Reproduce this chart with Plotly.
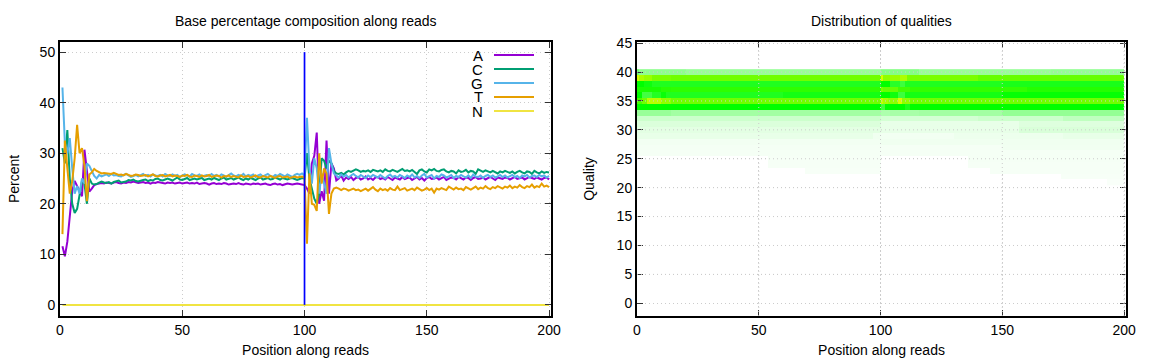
import plotly.graph_objects as go

series_names = ["A", "C", "G", "T", "N"]
series_colors = ["#9400d3", "#009e73", "#56b4e9", "#e69f00", "#f0e442"]

pct_a = [11.6,9.6,12.5,17,22.5,24.5,23.5,22.8,21.5,30.7,26,22.4,23,23.7,23.9,24.0,24.1,24.0,24.2,24.1,
 24.0,24.2,24.3,24.1,24.0,24.2,24.1,24.3,24.2,24.4,24.3,24.1,24.2,24.3,24.1,24.2,24.0,24.2,24.1,24.3,
 24.2,24.1,24.0,24.2,24.1,24.2,24.0,24.1,24.2,24.0,24.1,24.2,24.0,24.1,24.0,24.2,23.9,24.0,24.1,24.0,
 23.8,24.0,24.1,23.9,24.0,23.9,24.1,24.0,23.8,23.9,24.0,23.9,24.1,23.9,23.8,24.0,23.9,23.8,24.0,23.9,
 24.0,23.8,23.9,24.0,23.8,23.7,23.9,24.0,23.8,23.9,23.7,23.8,24.0,23.9,23.8,23.9,24.0,23.9,23.8,23.7,
 23,22,28,29.5,34.1,20,22.5,20.6,32.5,22,28,27,24.6,25,25.6,24.6,25.2,24.9,25.3,24.7,
 25.1,25.3,24.8,25.0,25.4,24.8,25.1,24.7,25.2,25.3,24.9,25.1,24.8,25.3,25.0,24.7,25.2,25.0,24.8,25.3,
 24.9,25.1,25.2,24.7,25.0,25.3,24.8,25.1,24.6,25.1,25.3,24.9,25.0,25.2,24.8,25.1,25.3,24.7,25.0,25.2,
 25.1,24.8,25.3,25.0,24.8,25.2,25.1,24.7,25.1,25.3,24.9,25.0,25.2,24.8,25.1,25.3,25.0,24.7,25.2,25.0,
 24.9,25.2,25.1,24.8,25.0,25.3,24.9,25.1,25.2,24.8,25.0,25.3,25.1,24.9,25.2,25.0,24.8,25.1,25.2,24.8]

pct_c = [31,28,34.6,25,20,18.2,19,22,24.5,24,20,25,24,23.8,23.9,24.2,24.4,24.2,24.1,24.3,
 24.0,24.3,24.5,24.6,24.2,24.3,24.4,24.7,24.6,24.8,24.5,24.4,24.6,24.7,24.8,24.5,24.7,24.6,24.9,25.0,
 24.7,24.6,24.8,25.0,24.8,24.6,24.9,25.2,24.8,24.7,24.9,25.1,24.7,24.8,25.0,24.8,24.9,25.1,24.7,24.9,
 25.0,24.8,25.1,24.9,24.7,25.0,25.2,24.8,24.9,25.1,24.8,25.0,25.2,24.9,24.7,25.0,24.8,25.1,24.9,24.7,
 25.0,25.2,24.8,25.0,25.1,24.8,24.9,25.2,25.0,24.8,25.1,24.9,24.8,25.0,25.1,24.9,24.7,24.9,25.1,25.0,
 30,25,23,21,20,22,29,28.5,27,28.5,28,26.5,26,25.9,26.1,25.8,26.2,26.5,26.3,26.6,
 26.8,26.6,26.3,26.5,26.4,26.6,26.3,26.7,26.5,26.4,26.6,26.3,26.8,26.5,26.4,26.7,26.5,26.3,26.6,26.9,
 26.5,26.6,26.4,26.7,26.3,25.9,26.6,26.8,26.4,26.2,26.8,26.6,26.9,26.5,26.4,26.7,26.8,26.4,26.2,26.5,
 26.4,26.0,26.6,26.3,26.4,26.7,26.2,26.5,26.4,25.9,26.8,26.5,26.3,26.6,26.4,26.2,26.5,26.3,26.0,26.4,
 26.2,26.5,26.3,26.1,26.4,26.0,26.3,26.5,26.2,26.0,26.4,26.3,25.9,26.5,26.2,26.0,26.4,26.1,26.3,26.2]

pct_g = [43,32,30,33,27,22,23.5,22,25,24,28,27.5,26.5,25.5,25,25.7,25.4,25.6,25.8,25.5,
 25.9,25.6,25.7,25.5,25.4,25.7,25.9,25.6,25.3,25.5,25.7,25.4,25.6,25.9,25.5,25.7,25.4,25.8,25.6,25.5,
 25.7,25.4,25.9,25.6,25.5,25.8,25.5,25.7,25.3,25.6,25.8,25.6,25.4,25.9,25.6,25.5,25.8,25.4,25.6,25.7,
 25.5,25.9,25.5,25.7,25.4,25.8,25.6,25.3,25.7,26.0,25.6,25.4,25.7,25.5,25.9,25.4,25.7,25.5,25.8,25.3,
 25.6,25.8,25.4,25.7,25.9,25.5,25.3,25.7,25.5,25.9,25.6,25.4,25.8,25.6,25.3,25.7,25.9,25.7,26.0,25.6,
 37,27,24,29,27,22,26,24,22,31,28,26,25.6,25.2,25.8,25.4,25.7,25.2,25.6,25.9,
 25.5,25.2,25.7,25.4,25.1,25.6,25.3,25.7,25.5,25.2,25.7,25.4,25.0,25.5,25.8,25.3,25.5,25.2,25.7,25.4,
 25.1,25.6,25.3,25.8,25.2,25.5,25.1,25.6,25.9,25.2,25.4,25.7,25.0,25.5,25.3,25.8,25.6,25.2,25.4,25.7,
 25.1,25.5,25.3,25.7,25.4,25.2,25.6,25.1,25.8,25.4,25.3,25.6,25.1,25.5,25.7,25.3,25.6,25.2,25.4,25.7,
 25.3,25.6,25.2,25.5,25.7,25.3,25.5,25.1,25.6,25.4,25.7,25.2,25.5,25.6,25.3,25.7,25.4,25.6,25.2,25.5]

pct_t = [14,32.5,27,22,24.5,29,35.6,30,31,27.5,20.5,25.8,26.2,26.9,26.5,26.2,26.0,26.1,26.0,25.9,
 25.9,26.1,25.9,25.7,25.8,25.6,25.9,25.7,25.5,25.6,25.8,25.7,25.5,25.6,25.7,25.4,25.6,25.8,25.5,25.4,
 25.6,25.7,25.4,25.5,25.7,25.4,25.6,25.5,25.3,25.6,25.5,25.7,25.4,25.3,25.6,25.5,25.3,25.6,25.4,25.5,
 25.7,25.3,25.4,25.6,25.5,25.2,25.5,25.4,25.6,25.3,25.5,25.4,25.2,25.6,25.3,25.4,25.5,25.2,25.4,25.6,
 25.3,25.2,25.5,25.4,25.2,25.5,25.3,25.1,25.4,25.5,25.2,25.3,25.4,25.1,25.3,25.4,25.2,25.3,25.4,25.2,
 12.1,26,20,19.8,18.6,30,24,27,26,18,22,23,23.2,23.0,22.7,23.0,22.9,22.6,22.8,23.0,
 22.7,22.8,22.5,22.8,23.0,22.6,22.9,23.3,22.8,22.5,23.0,22.7,22.9,22.6,23.1,22.8,22.7,23.4,22.7,22.9,
 23.1,22.6,22.8,23.0,22.7,23.2,22.9,22.6,22.8,23.1,22.7,23.0,22.2,23.0,22.8,23.1,22.9,22.7,23.4,23.1,
 22.8,23.2,22.9,23.0,22.7,23.3,23.0,22.8,23.1,23.4,22.9,23.2,23.0,23.5,23.1,22.9,23.3,23.1,23.5,23.2,
 23.0,23.4,23.2,23.6,23.1,23.4,23.2,23.7,23.3,23.1,23.5,23.3,23.8,23.2,23.5,23.3,24.0,23.4,23.6,23.3]

pct_n = [0.0] * 200
percent_series = [pct_a, pct_c, pct_g, pct_t, pct_n]
marker_pos = [100, 100]
marker_pct = [0, 50]

x_ticks = [0, 50, 100, 150, 200]
left_y_ticks = [0, 10, 20, 30, 40, 50]
right_y_ticks = list(range(0, 50, 5))

# quality rows: runs of (last position, shade)
q_runs = {
 40: [(1,.28),(20,.22),(100,.2),(116,.24),(170,.2),(200,.21)],
 39: [(1,.92),(3,.84),(6,.8),(14,.74),(100,.72),(101,.92),(104,.78),(108,.8),(111,.84),(140,.74),(200,.7)],
 38: [(3,.5),(6,.47),(14,.44),(100,.44),(104,.5),(108,.42),(110,.38),(150,.44),(200,.45)],
 37: [(10,.55),(14,.58),(100,.59),(101,.74),(107,.7),(112,.63),(160,.6),(200,.57)],
 36: [(2,.5),(6,.37),(10,.43),(12,.48),(60,.44),(100,.46),(104,.5),(107,.47),(110,.38),(150,.46),(200,.49)],
 35: [(2,.64),(4,.72),(10,.86),(14,.78),(100,.72),(101,.88),(103,.82),(107,.78),(109,.92),(112,.78),(200,.72)],
 34: [(100,.5),(102,.38),(110,.5),(112,.45),(200,.5)],
 33: [(14,.2),(100,.18),(104,.16),(116,.17),(150,.18),(200,.21)],
 32: [(100,.1),(140,.085),(175,.1),(200,.125)],
 31: [(100,.07),(157,.045),(200,.065)],
 30: [(100,.055),(157,.045),(200,.075)],
 29: [(97,.045),(100,.03),(130,.025),(175,.035),(200,.045)],
 28: [(100,.025),(200,.03)],
 27: [(100,.022),(150,.02),(200,.028)],
 26: [(200,.02)],
 25: [(54,0),(100,.018),(136,0),(200,.02)],
 24: [(54,0),(100,.018),(136,0),(200,.018)],
 23: [(69,0),(100,.015),(145,0),(200,.018)],
 22: [(145,0),(174,0),(200,.015)],
 21: [(193,0),(200,.012)],
}
quality_rows = sorted(q_runs)
shade_grid = []
for q in quality_rows:
    row, start = [], 0
    for end, shade in q_runs[q]:
        row += [shade if shade > 0 else None] * (end - start)
        start = end
    shade_grid.append(row)
position_edges = list(range(0, 201))

FONT = "Liberation Sans"
GRID = "#cccccc"
DOT = "1px,3px"
FS = 14
fig = go.Figure()
for name, vals, col in zip(series_names, percent_series, series_colors):
    fig.add_trace(go.Scatter(x=list(range(1, len(vals) + 1)), y=vals, mode="lines", name=name,
                             line=dict(color=col, width=2), showlegend=False, xaxis="x", yaxis="y"))
fig.add_trace(go.Scatter(x=marker_pos, y=marker_pct, mode="lines", line=dict(color="#0000ff", width=1.7),
                         showlegend=False, xaxis="x", yaxis="y"))
fig.add_trace(go.Heatmap(x=position_edges, y=quality_rows, z=shade_grid, zmin=0, zmax=1, showscale=False,
                         colorscale=[[0, "#ffffff"], [.5, "#00ff00"], [1, "#ffff00"]],
                         xaxis="x2", yaxis="y2", hoverongaps=False))

axis_style = dict(showline=True, linecolor="#000000", linewidth=2, mirror="allticks", ticks="inside",
                  ticklen=6, tickwidth=1, tickcolor="#333333", zeroline=False, showgrid=True, gridcolor=GRID,
                  griddash=DOT, gridwidth=1, layer="above traces", automargin=False,
                  tickfont=dict(size=FS, color="#000"))
W, H = 1152, 360
shapes, annos = [], []
# dotted grid over the heat cells
for t in x_ticks[1:]:
    shapes.append(dict(type="line", xref="x2", yref="y2 domain", x0=t, x1=t, y0=0, y1=1, layer="above",
                       line=dict(color=GRID, width=1, dash=DOT)))
for t in right_y_ticks[1:-1]:
    shapes.append(dict(type="line", xref="x2 domain", yref="y2", x0=0, x1=1, y0=t, y1=t, layer="above",
                       line=dict(color=GRID, width=1, dash=DOT)))
# line-key block: label first, then sample, as in the reference
for i, (name, col) in enumerate(zip(series_names, series_colors)):
    y = 55 + 14 * i
    annos.append(dict(text=name, xref="paper", yref="paper", x=485 / W, y=1 - y / H, xanchor="right",
                      yanchor="middle", showarrow=False, font=dict(size=15, family=FONT, color="#000")))
    shapes.append(dict(type="line", xref="paper", yref="paper", x0=494 / W, x1=534 / W, y0=1 - y / H, y1=1 - y / H,
                       line=dict(color=col, width=2)))
for txt, cx in [("Base percentage composition along reads", 305.5), ("Distribution of qualities", 881.5)]:
    annos.append(dict(text=txt, xref="paper", yref="paper", x=cx / W, y=1 - 21 / H, xanchor="center",
                      yanchor="middle", showarrow=False, font=dict(size=FS, family=FONT, color="#000")))

fig.update_layout(
    width=W, height=H, autosize=False, margin=dict(l=0, r=0, t=0, b=0, pad=0), plot_bgcolor="#ffffff",
    paper_bgcolor="#ffffff", font=dict(family=FONT, size=FS, color="#000"), shapes=shapes, annotations=annos,
    xaxis=dict(axis_style, domain=[60 / W, 551 / W], range=[0, 200.8], tickvals=x_ticks,
               title=dict(text="Position along reads", standoff=8, font=dict(size=FS))),
    yaxis=dict(axis_style, domain=[1 - 316 / H, 1 - 42 / H], range=[-2.2, 52], tickvals=left_y_ticks,
               title=dict(text="Percent", standoff=17, font=dict(size=FS))),
    xaxis2=dict(axis_style, domain=[637 / W, 1126 / W], range=[0, 200.8], tickvals=x_ticks, anchor="y2",
                title=dict(text="Position along reads", standoff=8, font=dict(size=FS))),
    yaxis2=dict(axis_style, domain=[1 - 316 / H, 1 - 42 / H], range=[-2.2, 45.2], tickvals=right_y_ticks, anchor="x2",
                title=dict(text="Quality", standoff=19, font=dict(size=FS))),
)
fig.write_html("out.html", config={"displayModeBar": False},
               post_script="document.body.style.margin='0';")
